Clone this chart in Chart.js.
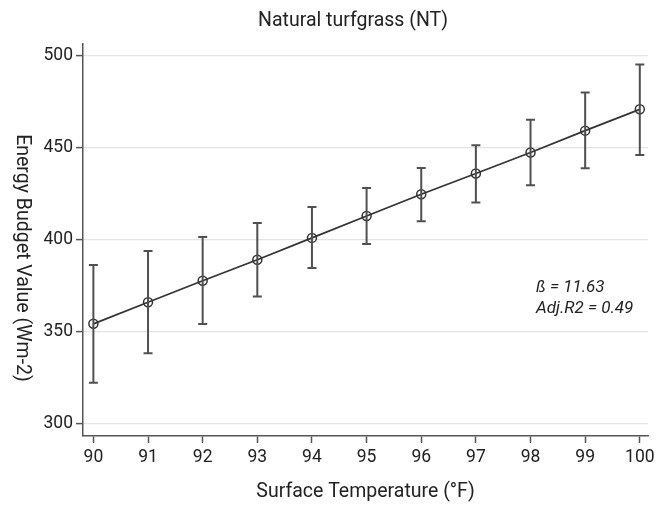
<!DOCTYPE html>
<html>
<head>
<meta charset="utf-8">
<script src="https://cdn.jsdelivr.net/npm/chart.js@4.4.1/dist/chart.umd.min.js"></script>
<style>
  html, body { margin: 0; padding: 0; background: #fff; }
  #wrap { width: 666px; height: 505px; }
</style>
</head>
<body>
<div id="wrap"><canvas id="grafico" width="666" height="505"></canvas></div>
<script>
// Dados
const temperaturas = [90, 91, 92, 93, 94, 95, 96, 97, 98, 99, 100];
const medias   = [354.3, 366.0, 377.7, 389.1, 401.0, 412.9, 424.7, 436.0, 447.4, 459.3, 470.9];
const superior = [386.2, 393.9, 401.5, 409.1, 417.8, 428.1, 439.0, 451.4, 465.2, 480.0, 495.3];
const inferior = [322.3, 338.3, 354.2, 369.2, 384.6, 397.7, 410.0, 420.3, 429.6, 438.8, 446.0];
const yTicks = [300, 350, 400, 450, 500];
const xTicks = [90, 91, 92, 93, 94, 95, 96, 97, 98, 99, 100];

const titulo = 'Natural turfgrass (NT)';
const tituloX = 'Surface Temperature (°F)';
const tituloY = 'Energy Budget Value (Wm-2)';
const anotacao = ['ß = 11.63', 'Adj.R2 = 0.49'];

const FONTE = 'Roboto, "Noto Sans", sans-serif';
const COR_TEXTO = '#222';
const COR_EIXO = '#555';

// Plugin para barras de erro e textos
const extras = {
    id: 'extras',
    afterDatasetsDraw(chart) {
        const ctx = chart.ctx;
        const xs = chart.scales.x, ys = chart.scales.y;
        ctx.save();
        ctx.strokeStyle = '#505050';
        ctx.lineWidth = 2;
        temperaturas.forEach((t, i) => {
            const px = xs.getPixelForValue(t);
            const top = ys.getPixelForValue(superior[i]);
            const bot = ys.getPixelForValue(inferior[i]);
            ctx.beginPath();
            ctx.moveTo(px, top); ctx.lineTo(px, bot);
            ctx.moveTo(px - 4.5, top); ctx.lineTo(px + 4.5, top);
            ctx.moveTo(px - 4.5, bot); ctx.lineTo(px + 4.5, bot);
            ctx.stroke();
        });
        ctx.restore();
    },
    afterDraw(chart) {
        const ctx = chart.ctx;
        const area = chart.chartArea;
        ctx.save();
        ctx.fillStyle = COR_TEXTO;
        ctx.font = '19.5px ' + FONTE;
        ctx.textAlign = 'center';
        ctx.textBaseline = 'middle';
        ctx.fillText(titulo, 353, 21);
        ctx.fillText(tituloX, (area.left + area.right) / 2, 492);

        ctx.save();
        ctx.translate(22, 258);
        ctx.rotate(Math.PI / 2);
        ctx.fillText(tituloY, 0, 0);
        ctx.restore();

        ctx.font = 'italic 17px ' + FONTE;
        ctx.textAlign = 'left';
        ctx.fillText(anotacao[0], 536, 288);
        ctx.fillText(anotacao[1], 536, 309);
        ctx.restore();
    }
};

document.addEventListener("DOMContentLoaded", () => {
    const ctx = document.getElementById('grafico').getContext('2d');
    new Chart(ctx, {
        type: 'line',
        data: {
            datasets: [{
                data: temperaturas.map((t, i) => ({ x: t, y: medias[i] })),
                borderColor: '#333',
                borderWidth: 1.8,
                pointRadius: 4.5,
                pointBorderWidth: 1.5,
                pointBorderColor: '#333',
                pointBackgroundColor: 'rgba(255,255,255,0)',
                fill: false,
                tension: 0
            }]
        },
        options: {
            responsive: false,
            animation: false,
            devicePixelRatio: 1,
            layout: { padding: { top: 44, right: 18, left: 0, bottom: 0 } },
            plugins: { legend: { display: false }, tooltip: { enabled: false } },
            scales: {
                x: {
                    type: 'linear',
                    min: 89.81,
                    max: 100.15,
                    afterBuildTicks: s => { s.ticks = xTicks.map(v => ({ value: v })); },
                    afterFit: s => { s.height = 69; },
                    grid: { drawOnChartArea: false, tickLength: 7, tickColor: COR_EIXO, tickWidth: 1.5 },
                    border: { color: COR_EIXO, width: 1.5 },
                    ticks: { color: COR_TEXTO, font: { family: FONTE, size: 17.5 }, padding: 4, maxRotation: 0 }
                },
                y: {
                    min: 293.3,
                    max: 506.4,
                    afterBuildTicks: s => { s.ticks = yTicks.map(v => ({ value: v })); },
                    afterFit: s => { s.width = 83; },
                    grid: { color: '#e3e3e3', lineWidth: 1.2, tickLength: 7, tickColor: COR_EIXO, tickWidth: 1.5 },
                    border: { color: COR_EIXO, width: 1.5 },
                    ticks: { color: COR_TEXTO, font: { family: FONTE, size: 17.5 }, padding: 3 }
                }
            }
        },
        plugins: [extras]
    });
});
</script>
</body>
</html>
